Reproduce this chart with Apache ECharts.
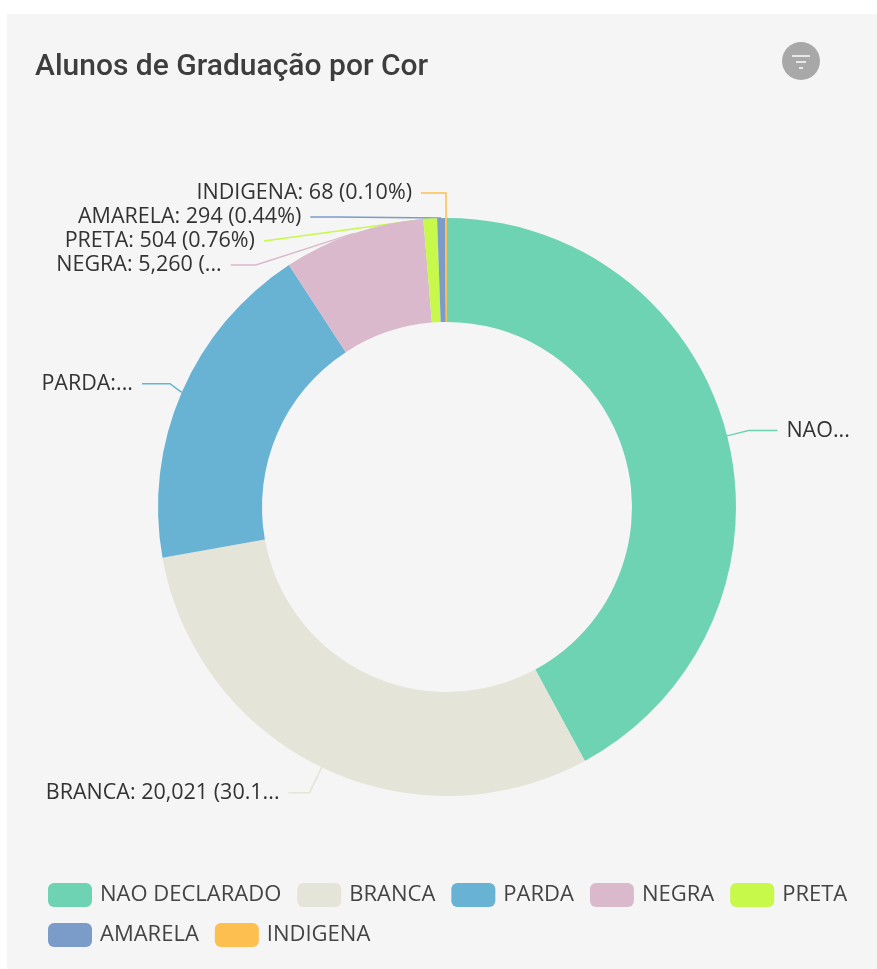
<!doctype html>
<html lang="pt">
<head>
  <meta charset="UTF-8">
  <title>Alunos de Graduação por Cor</title>
  <script src="https://cdn.jsdelivr.net/npm/echarts@6/dist/echarts.min.js"></script>
  <style>
    * {
      margin: 0;
      padding: 0;
      box-sizing: border-box;
    }

    body {
      background: #fff;
    }

    #chart {
      width: 877px;
      height: 969px;
    }
  </style>
</head>
<body>
<div id="chart"></div>
<script>
  const categories = ['NAO DECLARADO', 'BRANCA', 'PARDA', 'NEGRA', 'PRETA', 'AMARELA', 'INDIGENA']
  const values = [27990, 20021, 12370, 5260, 504, 294, 68]
  const colors = ['#6dd3b3', '#e5e4d9', '#68b3d3', '#d9b9cb', '#c6f94a', '#7b9bc9', '#fdbf4f']

  const font = '"Open Sans", sans-serif'
  const total = values.reduce((a, b) => a + b, 0)
  const chart = echarts.init(document.getElementById('chart'))

  // label width before it gets cut off, and label line lengths, slice by slice
  const labelLayout = [
    {width: 67, length: 22, length2: 29},
    {width: 240, length: 28, length2: 21},
    {width: 94, length: 22, length2: 28},
    {width: 176, length: 25, length2: 25},
    {width: 300, length: 25, length2: 25},
    {width: 300, length: 25, length2: 25},
    {width: 300, length: 25, length2: 25}
  ]

  chart.setOption({
    animation: false,
    title: {
      text: 'Alunos de Graduação por Cor',
      left: 30,
      top: 47,
      textStyle: {
        fontFamily: 'Roboto, sans-serif',
        fontSize: 30,
        fontWeight: 500,
        color: '#3d3d3d'
      }
    },
    legend: {
      left: 48,
      top: 883,
      width: 815,
      padding: 0,
      itemWidth: 44,
      itemHeight: 24,
      itemGap: 16,
      itemStyle: {borderRadius: 6},
      textStyle: {fontFamily: font, fontSize: 22, color: '#444', padding: [1, 0, 1, 3]},
      data: categories
    },
    graphic: [
      {
        type: 'rect', z: -1, silent: true,
        shape: {x: 7, y: 14, width: 870, height: 955},
        style: {fill: '#f5f5f5'}
      },
      {
        type: 'group', left: 782, top: 42,
        children: [
          {type: 'circle', shape: {cx: 19, cy: 19, r: 19}, style: {fill: '#a8a8a8'}},
          {type: 'rect', shape: {x: 10, y: 13, width: 18, height: 2}, style: {fill: '#e8e8e8'}},
          {type: 'rect', shape: {x: 14, y: 19, width: 10, height: 2}, style: {fill: '#e8e8e8'}},
          {type: 'rect', shape: {x: 17, y: 25, width: 4, height: 2}, style: {fill: '#e8e8e8'}}
        ]
      }
    ],
    series: [
      {
        type: 'pie',
        center: [447, 507],
        radius: [185, 289],
        startAngle: 90,
        clockwise: true,
        minShowLabelAngle: 0,
        avoidLabelOverlap: true,
        label: {
          fontFamily: font,
          fontSize: 21.5,
          color: '#333',
          overflow: 'truncate',
          ellipsis: '...',
          distanceToLabelLine: 9,
          formatter: p => p.name + ': ' + p.value.toLocaleString('en-US') +
            ' (' + (p.value / total * 100).toFixed(2) + '%)'
        },
        labelLine: {lineStyle: {width: 1.5}},
        data: categories.map((name, i) => ({
          name: name,
          value: values[i],
          itemStyle: {color: colors[i]},
          label: {width: labelLayout[i].width},
          labelLine: {length: labelLayout[i].length, length2: labelLayout[i].length2}
        }))
      }
    ]
  })
</script>
</body>
</html>
